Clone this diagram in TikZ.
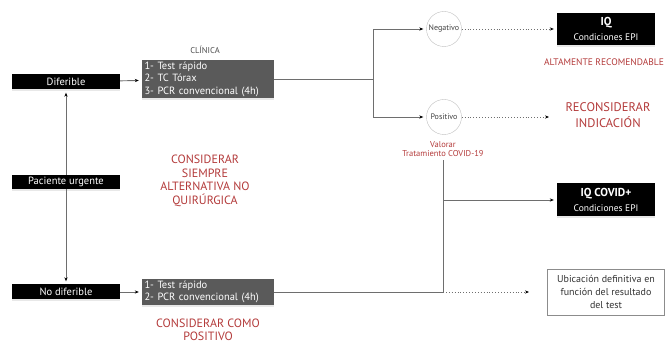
\documentclass[tikz,border=0pt]{standalone}
\usepackage{fontspec}
\setmainfont{PT Sans}
\usetikzlibrary{arrows.meta,shadows}
\definecolor{notered}{HTML}{B33A3A}
\definecolor{boxgray}{HTML}{5A5A5A}
\definecolor{linegray}{HTML}{6E6E6E}

\begin{document}
\begin{tikzpicture}[x=1pt,y=-1pt]
        \tikzstyle{box}=[inner sep=2pt, text=white, font=\fontsize{10.5}{12.5}\selectfont,
                         drop shadow={opacity=0.18, shadow xshift=0pt, shadow yshift=-2pt}]
        \tikzstyle{case box}=[box, fill=black, minimum width=108pt, minimum height=15pt];
        \tikzstyle{test box}=[box, fill=boxgray, minimum width=132pt, text width=127pt, align=left];
        \tikzstyle{result box}=[box, fill=black, minimum width=98pt, minimum height=32pt, align=center];
        \tikzstyle{result}=[circle, draw=black!25, minimum size=35pt, inner sep=0pt,
                            font=\fontsize{8}{9}\selectfont, text=black!75];
        \tikzstyle{note}=[text=notered, align=center, font=\fontsize{12}{13.5}\selectfont];
        \tikzstyle{link}=[draw=linegray, line width=0.9pt];
        \tikzstyle{arrow}=[link, -{Stealth[length=4pt,width=3.2pt,color=black]}, shorten >=3pt];
        \tikzstyle{dotted arrow}=[arrow, dotted, line width=0.8pt];

        \useasboundingbox (0,0) rectangle (667,344);

        % Patient cases
        \node[case box] (diferible) at (66,82) {Diferible};
        \node[case box, minimum height=13pt] (urgente) at (66,182) {Paciente urgente};
        \node[case box] (nodiferible) at (66,292) {No diferible};

        % Tests
        \node[test box] (clinica) at (208,79) {1- Test rápido\\2- TC Tórax\\3- PCR convencional (4h)};
        \node[font=\fontsize{8.5}{9}\selectfont, text=black!70] (clinica-title) at (205,50) {CLÍNICA};
        \node[test box] (rapido) at (208,292) {1- Test rápido\\2- PCR convencional (4h)};

        % Test results
        \node[result] (negativo) at (444,29) {Negativo};
        \node[result] (positivo) at (444,117) {Positivo};
        \node[text=notered, align=center, font=\fontsize{8.5}{9.5}\selectfont] (valorar) at (443,149)
            {Valorar\\Tratamiento COVID-19};

        % Outcomes
        \node[result box] (iq) at (606,29)
            {{\fontsize{11.5}{12}\selectfont\bfseries IQ}\\[3pt]{\fontsize{9.5}{10}\selectfont Condiciones EPI}};
        \node[result box, minimum height=33pt] (iqcovid) at (606,200)
            {{\fontsize{11.5}{12}\selectfont\bfseries IQ COVID+}\\[3pt]{\fontsize{9.5}{10}\selectfont Condiciones EPI}};
        \node[draw=black!45, fill=white, minimum width=117pt, minimum height=46pt,
              inner sep=2pt, align=center, text=black!80, font=\fontsize{10}{13}\selectfont] (ubicacion) at (606,292)
            {Ubicación definitiva en\\función del resultado\\del test};

        % Annotations
        \node[text=notered, font=\fontsize{9.5}{10}\selectfont] (recomendable) at (604,62) {ALTAMENTE RECOMENDABLE};
        \node[note, font=\fontsize{12.5}{16}\selectfont] (reconsiderar) at (608,115) {RECONSIDERAR\\INDICACIÓN};
        \node[note] (alternativa) at (205,181) {CONSIDERAR\\SIEMPRE\\ALTERNATIVA NO\\QUIRÚRGICA};
        \node[note, font=\fontsize{12}{12.5}\selectfont] (positivo-note) at (208,330) {CONSIDERAR COMO\\POSITIVO};

        % Junctions
        \coordinate (split) at (373,79);
        \coordinate (covid-split) at (443,200);
        \coordinate (bottom-split) at (443,292);
        \coordinate (reconsiderar-end) at (552,117);
        \coordinate (ubicacion-end) at (532,292);

        % Connect nodes
        \path[arrow] (urgente) -- (diferible);
        \path[arrow] (urgente) -- (nodiferible);
        \path[arrow] (diferible) -- (clinica);
        \path[arrow] (nodiferible) -- (rapido);

        \path[link] (clinica) -- (split);
        \path[arrow] (split) |- (negativo);
        \path[arrow] (split) |- (positivo);
        \path[dotted arrow] (negativo) -- (iq);
        \path[dotted arrow] (positivo) -- (reconsiderar-end);

        \path[link] (rapido) -- (bottom-split) -- (valorar);
        \path[arrow] (covid-split) -- (iqcovid);
        \path[dotted arrow] (bottom-split) -- (ubicacion-end);

\end{tikzpicture}
\end{document}
